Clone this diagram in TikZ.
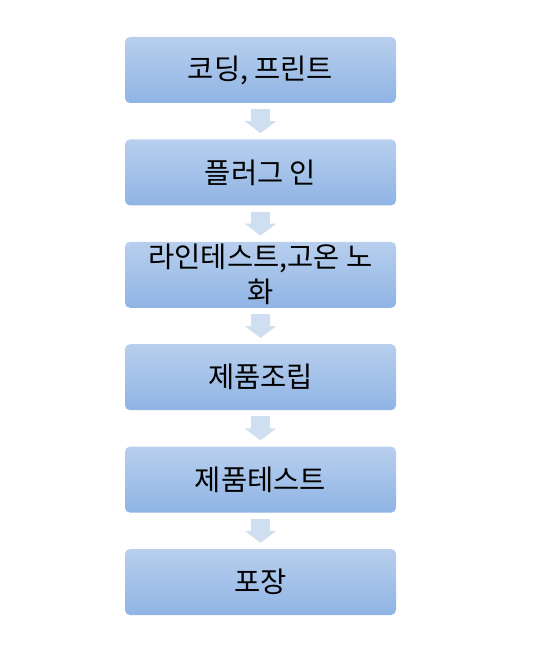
\documentclass[tikz,border=0pt]{standalone}
\usepackage{fontspec}
\setmainfont{Noto Sans CJK KR}
\usetikzlibrary{positioning}
\usetikzlibrary{arrows.meta}
\definecolor{boxtop}{RGB}{184,207,238}
\definecolor{boxbot}{RGB}{143,180,228}
\definecolor{arrowfill}{RGB}{207,222,241}
\tikzset{
  stage/.style={rounded corners=5pt, top color=boxtop, bottom color=boxbot,
    minimum width=271pt, minimum height=66pt, inner sep=0pt, align=center,
    font=\fontsize{28.5}{35}\selectfont},
  flow/.style={draw=arrowfill, line width=19pt, shorten <=6pt, shorten >=6pt,
    -{Triangle[length=12pt,width=31pt]}}
}

\begin{document}
\begin{tikzpicture}
  \useasboundingbox (0,0) rectangle (534pt,-650pt);
  \node[stage] (coding) at (260.5pt,-70pt) {코딩, 프린트};
  \node[stage, below=36pt of coding] (plugin) {플러그 인};
  \node[stage, below=36pt of plugin] (linetest) {라인테스트,고온 노\\화};
  \node[stage, below=36pt of linetest] (assembly) {제품조립};
  \node[stage, below=36pt of assembly] (prodtest) {제품테스트};
  \node[stage, below=36pt of prodtest] (packing) {포장};
  \draw[flow] (coding) -- (plugin);
  \draw[flow] (plugin) -- (linetest);
  \draw[flow] (linetest) -- (assembly);
  \draw[flow] (assembly) -- (prodtest);
  \draw[flow] (prodtest) -- (packing);
\end{tikzpicture}
\end{document}
